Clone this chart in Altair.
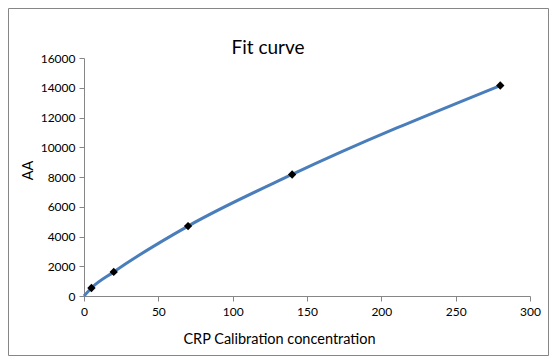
import altair as alt
import pandas as pd

conc = [5, 20, 70, 140, 280]
aa = [540, 1620, 4700, 8170, 14150]

curve_x = [0, 5, 20, 70, 140, 280]
curve_y = [0, 540, 1620, 4700, 8170, 14150]

x_ticks = [0, 50, 100, 150, 200, 250, 300]
y_ticks = [0, 2000, 4000, 6000, 8000, 10000, 12000, 14000, 16000]

pts = pd.DataFrame({"x": conc, "y": aa})
crv = pd.DataFrame({"x": curve_x, "y": curve_y})

FONT = "Lato"

xs = alt.Scale(domain=[0, 300], nice=False, zero=False)
ys = alt.Scale(domain=[0, 16000], nice=False, zero=False)

xax = alt.Axis(values=x_ticks, grid=False, format="d",
               title="CRP Calibration concentration", titleFontSize=14.5,
               titleFontWeight="normal", titleFont=FONT, titleColor="#000000",
               titleX=195, titleY=47, titleBaseline="alphabetic", titleAlign="center",
               labelFont=FONT, labelFontSize=12, labelColor="#000000",
               labelPadding=5, tickSize=5, domainColor="#868686", tickColor="#868686",
               labelFlush=False, labelOverlap=False)
yax = alt.Axis(values=y_ticks, grid=False, format="d", title="AA",
               titleFontSize=14.5, titleFontWeight="normal", titleFont=FONT,
               titleColor="#000000", titleX=-56, titleY=112, titleBaseline="middle",
               titleAlign="center", titleAngle=270,
               labelFont=FONT, labelFontSize=12,
               labelColor="#000000", labelPadding=4, tickSize=5,
               domainColor="#868686", tickColor="#868686", labelFlush=False,
               labelOverlap=False)

line = alt.Chart(crv).mark_line(interpolate="monotone", color="#4A7EBB", strokeWidth=3).encode(
    x=alt.X("x:Q", scale=xs, axis=xax),
    y=alt.Y("y:Q", scale=ys, axis=yax),
)

points = alt.Chart(pts).mark_point(shape="diamond", filled=True, color="#000000",
                                   size=70, opacity=1).encode(
    x=alt.X("x:Q", scale=xs, axis=xax),
    y=alt.Y("y:Q", scale=ys, axis=yax),
)

title = alt.Chart(pd.DataFrame({"t": ["Fit curve"]})).mark_text(
    font=FONT, fontSize=19, color="#000000", align="center", baseline="alphabetic"
).encode(text="t:N", x=alt.value(184), y=alt.value(-4))

border = alt.Chart(pd.DataFrame({"a": [0]})).mark_rect(
    fill=None, stroke="#868686", strokeWidth=1, clip=False
).encode(x=alt.value(-75.5), x2=alt.value(464.5), y=alt.value(-49.5), y2=alt.value(297.5))

chart = alt.layer(border, line, points, title).properties(
    width=446, height=238, background="#ffffff",
    autosize=alt.AutoSizeParams(type="none"),
    padding={"left": 76, "top": 50, "right": 19, "bottom": 60},
).configure_view(strokeWidth=0)

chart.save("out.html", embed_options={"renderer": "svg", "actions": False})
